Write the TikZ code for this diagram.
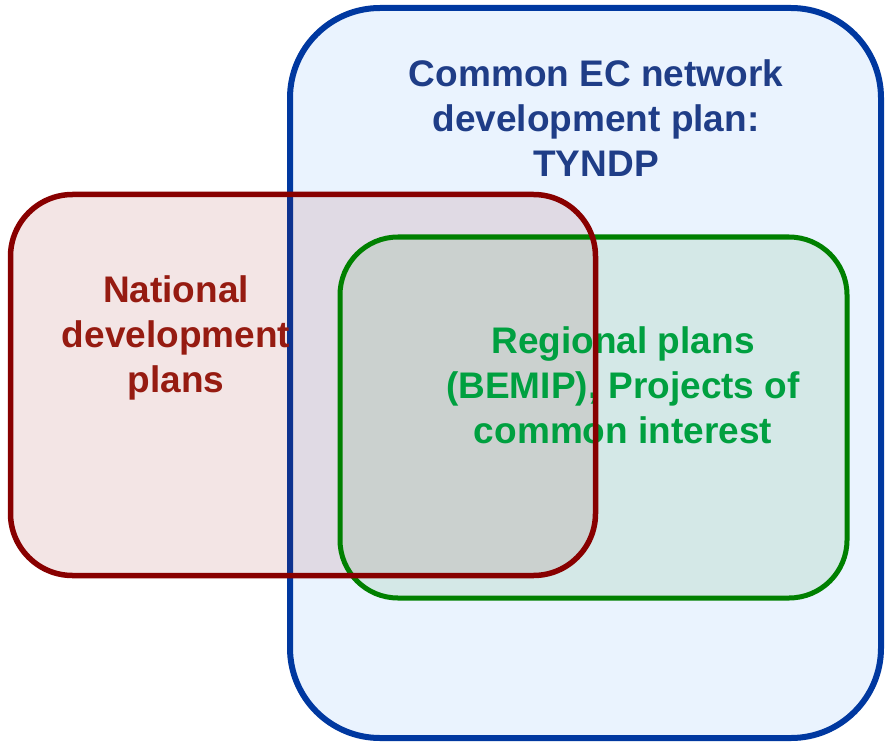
\documentclass[tikz,border=0pt]{standalone}
\usepackage{fontspec}
\setmainfont{Liberation Sans}
\begin{document}
\definecolor{ecline}{RGB}{0,56,160}
\definecolor{ecfill}{RGB}{234,243,254}
\definecolor{ectext}{RGB}{31,61,135}
\definecolor{natline}{RGB}{136,0,0}
\definecolor{nattext}{RGB}{150,27,17}
\definecolor{regline}{RGB}{0,128,0}
\definecolor{regtext}{RGB}{0,160,64}
\begin{tikzpicture}[x=1pt,y=-1pt,
  setbox/.style={inner sep=0pt, outer sep=0pt, rectangle},
  label/.style={font=\bfseries\fontsize{37}{45}\selectfont, align=center, inner sep=0pt},
  ecbox/.style={setbox, draw=ecline, fill=ecfill, line width=6pt, rounded corners=90pt},
  natbox/.style={setbox, fill=natline, fill opacity=0.1, rounded corners=62pt},
  natedge/.style={draw=natline, line width=5.5pt, rounded corners=62pt},
  regbox/.style={setbox, draw=regline, fill=regline, fill opacity=0.09, draw opacity=1, line width=5pt, rounded corners=58pt}]
\useasboundingbox (0,0) rectangle (885,743);

% TYNDP frame
\node[ecbox, minimum width=591pt, minimum height=730pt] (ec) at (585.5,373) {};
\node[label, text=ectext] (ectxt) at (596,118) {Common EC network\\development plan:\\TYNDP};

% national plans
\node[natbox, minimum width=585pt, minimum height=381pt] (nat) at (303,385) {};
\node[label, text=nattext] (nattxt) at (176,338) {National\\development\\plans};

% regional plans
\node[regbox, minimum width=507pt, minimum height=361pt] (reg) at (593.5,417.5) {};
\node[label, text=regtext] (regtxt) at (623,385) {Regional plans\\(BEMIP), Projects of\\common interest};

% outline of the national box on top
\draw[natedge] (nat.north west) rectangle (nat.south east);
\end{tikzpicture}
\end{document}
